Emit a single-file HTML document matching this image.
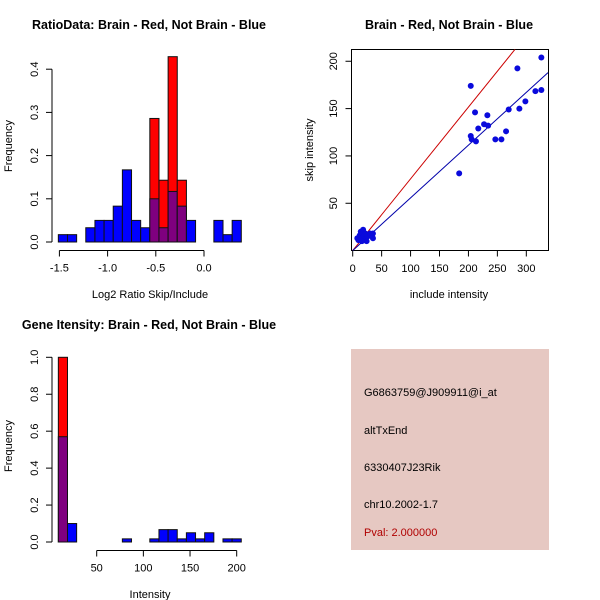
<!DOCTYPE html>
<html><head><meta charset="utf-8">
<style>
html,body{margin:0;padding:0;background:#fff;}
svg{display:block;font-family:"Liberation Sans",sans-serif;}
</style></head>
<body>
<svg id="chart" width="600" height="600" viewBox="0 0 600 600" xmlns="http://www.w3.org/2000/svg">
<rect x="0" y="0" width="600" height="600" fill="#fff"/>
<g id="p1"></g>
<g id="p2"></g>
<g id="p3"></g>
<g id="p4">
  <rect x="351" y="349" width="198" height="201" fill="#e6c8c2"/>
  <text x="364" y="396" font-size="11" fill="#000">G6863759@J909911@i_at</text>
  <text x="364" y="434" font-size="11" fill="#000">altTxEnd</text>
  <text x="364" y="471" font-size="11" fill="#000">6330407J23Rik</text>
  <text x="364" y="508" font-size="11" fill="#000">chr10.2002-1.7</text>
  <text x="364" y="536" font-size="11" fill="#b00000">Pval: 2.000000</text>
</g>
</svg>
<script>
// ---- Panel 1 data: ratio histogram ----
const ratioBinStart = -1.511;
const ratioBinWidth = 0.0949;
const ratioBlue = [0.017,0.017,0,0.033,0.05,0.05,0.083,0.167,0.05,0.033,0.1,0.033,0.117,0.083,0.05,0,0,0.05,0.017,0.05];
const ratioRed  = [0,0,0,0,0,0,0,0,0,0,0.286,0.143,0.429,0.143,0,0,0,0,0,0];
const ratioXTicks = [-1.5,-1.0,-0.5,0.0];
const ratioXTickLabels = ["-1.5","-1.0","-0.5","0.0"];
const ratioYTicks = [0,0.1,0.2,0.3,0.4];
const ratioYTickLabels = ["0.0","0.1","0.2","0.3","0.4"];

// ---- Panel 2 data: scatter ----
const includeVals = [326,284.6,204,326,315.7,298.4,288,269.6,211.4,232.7,227,234,217,265,204,205.6,213,246.5,257,184,
  8,10,12,14,15,17,18,19,20,22,24,26,30,35,35,16,13];
const skipVals = [204,192.5,174,169.6,168.5,157.6,150,149,146,143,133.5,132,129,126,121,117.5,115.4,117.5,117.5,81.6,
  13,11,16,20,13,18,22,15,12,18,10,15,18,18,13,10,11];
const redLineSlope = [0.758];
const blueLineSlope = [0.557];
const scatterXTicks = [0,50,100,150,200,250,300];
const scatterYTicks = [50,100,150,200];

// ---- Panel 3 data: intensity histogram ----
const intBinStart = 8.9;
const intBinWidth = 9.8;
const intBlue = [0.57,0.1,0,0,0,0,0,0.017,0,0,0.017,0.067,0.067,0.017,0.05,0.017,0.05,0,0.017,0.017];
const intRed  = [1.0,0,0,0,0,0,0,0,0,0,0,0,0,0,0,0,0,0,0,0];
const intXTicks = [50,100,150,200];
const intYTicks = [0,0.2,0.4,0.6,0.8,1.0];
const intYTickLabels = ["0.0","0.2","0.4","0.6","0.8","1.0"];

const NS = "http://www.w3.org/2000/svg";
function mk(parent, tag, attrs, text){
  const e = document.createElementNS(NS, tag);
  for (const k in attrs) e.setAttribute(k, attrs[k]);
  if (text !== undefined) e.textContent = text;
  parent.appendChild(e);
  return e;
}
const RED="#ff0000", BLUE="#0000ff", PURPLE="#7f007f";

function histogram(g, o){
  const sx = v => o.x0px + (v - o.x0) * o.xk;
  const sy = v => o.y0px - v * o.yk;
  for (let i=0;i<o.blue.length;i++){
    const a = o.binStart + i*o.binWidth, b = a + o.binWidth;
    const bl = o.blue[i], rd = o.red[i];
    const x = sx(a), w = sx(b)-sx(a);
    if (rd > 0){
      const r = mk(g,'rect',{x:x,y:sy(rd),width:w,height:sy(0)-sy(rd),fill:RED,stroke:"#111","stroke-width":1});
      
      
    }
    if (bl > 0){
      const col = rd > 0 ? PURPLE : BLUE;
      const r = mk(g,'rect',{x:x,y:sy(bl),width:w,height:sy(0)-sy(bl),fill:col,stroke:"#111","stroke-width":1});
      
      
    }
  }
  const xa = mk(g,'g',{});
  
  
  mk(xa,'line',{x1:sx(o.xTicks[0]),x2:sx(o.xTicks[o.xTicks.length-1]),y1:o.xAxisY,y2:o.xAxisY,stroke:"#000"});
  o.xTicks.forEach((t,i)=>{
    mk(xa,'line',{x1:sx(t),x2:sx(t),y1:o.xAxisY,y2:o.xAxisY+6,stroke:"#000"});
    const tl = mk(xa,'text',{x:sx(t),y:o.xAxisY+21,"font-size":11,"text-anchor":"middle"}, o.xLabels[i]);
    
    
  });
  const ya = mk(g,'g',{});
  
  
  mk(ya,'line',{x1:o.yAxisX,x2:o.yAxisX,y1:sy(o.yTicks[0]),y2:sy(o.yTicks[o.yTicks.length-1]),stroke:"#000"});
  o.yTicks.forEach((t,i)=>{
    mk(ya,'line',{x1:o.yAxisX-6,x2:o.yAxisX,y1:sy(t),y2:sy(t),stroke:"#000"});
    const tl = mk(ya,'text',{x:0,y:0,"font-size":11,"text-anchor":"middle",transform:`translate(${o.yAxisX-14},${sy(t)}) rotate(-90)`}, o.yLabels[i]);
    
    
  });
}

// Panel 1
const g1 = document.getElementById('p1');
histogram(g1,{x0:0,x0px:204,xk:96.4,y0px:242,yk:432,binStart:ratioBinStart,binWidth:ratioBinWidth,
  blue:ratioBlue,red:ratioRed,xTicks:ratioXTicks,xLabels:ratioXTickLabels,yTicks:ratioYTicks,yLabels:ratioYTickLabels,
  xAxisY:250.5,yAxisX:52});
mk(g1,'text',{x:149,y:29,"font-size":12.5,"font-weight":"bold","text-anchor":"middle",},"RatioData: Brain - Red, Not Brain - Blue");
mk(g1,'text',{x:150,y:298,"font-size":11,"text-anchor":"middle",},"Log2 Ratio Skip/Include");
mk(g1,'text',{x:0,y:0,"font-size":11,"text-anchor":"middle",transform:"translate(12,146) rotate(-90)",},"Frequency");

// Panel 2
const g2 = document.getElementById('p2');
const px = v => 352.7 + v*0.5787;
const py = v => 250.6 - v*0.9467;
const xMax = 337.5;
mk(g2,'rect',{x:351.5,y:49.5,width:197,height:201,fill:"none",stroke:"#000",});
const clip = mk(g2,'clipPath',{id:"c2"});
mk(clip,'rect',{x:351.5,y:49.5,width:197,height:201});
const lines = mk(g2,'g',{"clip-path":"url(#c2)"});
const rl = mk(lines,'line',{x1:px(0),y1:py(0),x2:px(xMax),y2:py(xMax*redLineSlope[0]),stroke:"#cc0000","stroke-width":1});


const bln = mk(lines,'line',{x1:px(0),y1:py(0),x2:px(xMax),y2:py(xMax*blueLineSlope[0]),stroke:"#0000aa","stroke-width":1});


for (let i=0;i<includeVals.length;i++){
  const c = mk(g2,'circle',{cx:px(includeVals[i]),cy:py(skipVals[i]),r:3,fill:"#0a0adc"});
  
  
}
scatterXTicks.forEach(t=>{
  mk(g2,'line',{x1:px(t),x2:px(t),y1:250.5,y2:256.5,stroke:"#000"});
  const tl = mk(g2,'text',{x:px(t),y:272,"font-size":11,"text-anchor":"middle"},String(t));
  
  
});
scatterYTicks.forEach(t=>{
  mk(g2,'line',{x1:345.5,x2:351.5,y1:py(t),y2:py(t),stroke:"#000"});
  const tl = mk(g2,'text',{x:0,y:0,"font-size":11,"text-anchor":"middle",transform:`translate(337,${py(t)}) rotate(-90)`},String(t));
  
  
});
mk(g2,'text',{x:449,y:29,"font-size":12.5,"font-weight":"bold","text-anchor":"middle",},"Brain - Red, Not Brain - Blue");
mk(g2,'text',{x:449,y:298,"font-size":11,"text-anchor":"middle",},"include intensity");
mk(g2,'text',{x:0,y:0,"font-size":11,"text-anchor":"middle",transform:"translate(313,150) rotate(-90)",},"skip intensity");

// Panel 3
const g3 = document.getElementById('p3');
histogram(g3,{x0:50,x0px:96.7,xk:0.9333,y0px:542,yk:184.7,binStart:intBinStart,binWidth:intBinWidth,
  blue:intBlue,red:intRed,xTicks:intXTicks,xLabels:intXTicks.map(String),yTicks:intYTicks,yLabels:intYTickLabels,
  xAxisY:550.5,yAxisX:52});
mk(g3,'text',{x:149,y:329,"font-size":12.5,"font-weight":"bold","text-anchor":"middle",},"Gene Itensity: Brain - Red, Not Brain - Blue");
mk(g3,'text',{x:150,y:598,"font-size":11,"text-anchor":"middle",},"Intensity");
mk(g3,'text',{x:0,y:0,"font-size":11,"text-anchor":"middle",transform:"translate(12,446) rotate(-90)",},"Frequency");
</script>
</body></html>
